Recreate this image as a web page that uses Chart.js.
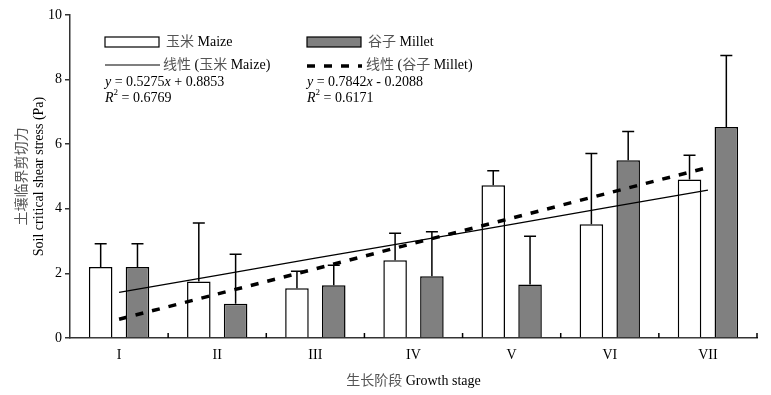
<!DOCTYPE html>
<html>
<head>
<meta charset="utf-8">
<script src="https://cdn.jsdelivr.net/npm/chart.js@4.4.1/dist/chart.umd.min.js"></script>
<style>
  body { margin: 0; background: #fff; }
  #wrap { width: 771px; height: 395px; }
</style>
</head>
<body>
<div id="wrap"><canvas id="myChart" width="771" height="395"></canvas></div>
<script>
// growth stages and measured values (Pa)
const stages = ['I', 'II', 'III', 'IV', 'V', 'VI', 'VII'];
const maize = [2.2, 1.75, 1.54, 2.41, 4.73, 3.52, 4.91];
const maizeSd = [0.72, 1.81, 0.53, 0.83, 0.45, 2.19, 0.75];
const millet = [2.2, 1.06, 1.63, 1.91, 1.66, 5.50, 6.53];
const milletSd = [0.72, 1.53, 0.62, 1.38, 1.49, 0.89, 2.22];
// linear trend values at each stage (from the fitted equations in the legend)
const maizeTrend = [1.41, 1.94, 2.47, 2.99, 3.52, 4.05, 4.58];
const milletTrend = [0.58, 1.36, 2.14, 2.93, 3.71, 4.50, 5.28];
const yTicks = [0, 2, 4, 6, 8, 10];

const FONT = '"Liberation Serif", "Noto Sans CJK SC", serif';
const cjk = /[\u3000-\u9fff\uff00-\uffef]/;

// draw text with CJK runs a bit lighter, like the original
function drawMixed(ctx, text, x, y, align) {
    const runs = [];
    for (const ch of text) {
        const isC = cjk.test(ch);
        if (runs.length && runs[runs.length - 1].c === isC) runs[runs.length - 1].t += ch;
        else runs.push({ t: ch, c: isC });
    }
    let total = 0;
    runs.forEach(r => { total += ctx.measureText(r.t).width; });
    let cx = align === 'center' ? x - total / 2 : x;
    ctx.textAlign = 'left';
    runs.forEach(r => {
        ctx.fillStyle = r.c ? '#555' : '#000';
        ctx.fillText(r.t, cx, y);
        cx += ctx.measureText(r.t).width;
    });
}

function drawEquation(ctx, x, y, parts) {
    let cx = x;
    parts.forEach(p => {
        ctx.font = (p.i ? 'italic ' : '') + (p.sup ? '9px ' : '14px ') + FONT;
        ctx.fillText(p.t, cx, p.sup ? y - 5 : y);
        cx += ctx.measureText(p.t).width;
    });
}

const overlay = {
    id: 'overlay',
    afterDatasetsDraw(chart) {
        const ctx = chart.ctx;
        const ys = chart.scales.y;
        const xs = chart.scales.x;
        ctx.save();
        ctx.strokeStyle = '#000';
        ctx.lineWidth = 1.5;
        // error bars on the two bar datasets (indices 2 and 3)
        [[2, maize, maizeSd], [3, millet, milletSd]].forEach(([idx, vals, sds]) => {
            chart.getDatasetMeta(idx).data.forEach((bar, j) => {
                const top = ys.getPixelForValue(vals[j] + sds[j]);
                ctx.beginPath();
                ctx.moveTo(bar.x, bar.y);
                ctx.lineTo(bar.x, top);
                ctx.moveTo(bar.x - 6, top);
                ctx.lineTo(bar.x + 6, top);
                ctx.stroke();
            });
        });
        // inward ticks at category boundaries
        const w = (xs.right - xs.left) / stages.length;
        for (let i = 1; i <= stages.length; i++) {
            const x = xs.left + i * w;
            ctx.beginPath();
            ctx.moveTo(x, xs.top);
            ctx.lineTo(x, xs.top - 5);
            ctx.stroke();
        }
        ctx.restore();
    },
    afterDraw(chart) {
        const ctx = chart.ctx;
        const ca = chart.chartArea;
        const l = ca.left, t = ca.top;
        ctx.save();
        ctx.textBaseline = 'middle';
        ctx.font = '14px ' + FONT;
        // legend row 1
        ctx.lineWidth = 1.2;
        ctx.strokeStyle = '#000';
        ctx.fillStyle = '#fff';
        ctx.fillRect(l + 35, t + 22, 54, 10);
        ctx.strokeRect(l + 35, t + 22, 54, 10);
        ctx.fillStyle = '#808080';
        ctx.fillRect(l + 237, t + 22, 54, 10);
        ctx.strokeRect(l + 237, t + 22, 54, 10);
        drawMixed(ctx, '玉米 Maize', l + 96, t + 27);
        drawMixed(ctx, '谷子 Millet', l + 298, t + 27);
        // legend row 2
        ctx.beginPath();
        ctx.moveTo(l + 35, t + 50);
        ctx.lineTo(l + 90, t + 50);
        ctx.stroke();
        ctx.lineWidth = 3.5;
        ctx.setLineDash([8, 9]);
        ctx.beginPath();
        ctx.moveTo(l + 237, t + 51);
        ctx.lineTo(l + 292, t + 51);
        ctx.stroke();
        ctx.setLineDash([]);
        drawMixed(ctx, '线性 (玉米 Maize)', l + 93, t + 50);
        drawMixed(ctx, '线性 (谷子 Millet)', l + 296, t + 50);
        // equations
        ctx.fillStyle = '#000';
        drawEquation(ctx, l + 35, t + 67, [{ t: 'y', i: 1 }, { t: ' = 0.5275' }, { t: 'x', i: 1 }, { t: ' + 0.8853' }]);
        drawEquation(ctx, l + 35, t + 83, [{ t: 'R', i: 1 }, { t: '2', sup: 1 }, { t: ' = 0.6769' }]);
        drawEquation(ctx, l + 237, t + 67, [{ t: 'y', i: 1 }, { t: ' = 0.7842' }, { t: 'x', i: 1 }, { t: ' - 0.2088' }]);
        drawEquation(ctx, l + 237, t + 83, [{ t: 'R', i: 1 }, { t: '2', sup: 1 }, { t: ' = 0.6171' }]);
        // axis titles
        ctx.font = '14px ' + FONT;
        drawMixed(ctx, '生长阶段 Growth stage', (ca.left + ca.right) / 2, 381, 'center');
        const cy = (ca.top + ca.bottom) / 2;
        ctx.translate(22, cy);
        ctx.rotate(-Math.PI / 2);
        drawMixed(ctx, '土壤临界剪切力', 0, 0, 'center');
        drawMixed(ctx, 'Soil critical shear stress (Pa)', 0, 17, 'center');
        ctx.restore();
    }
};

const ctx = document.getElementById('myChart').getContext('2d');

const chart = new Chart(ctx, {
    data: {
        labels: stages,
        datasets: [
            {
                type: 'line', label: '线性 (玉米 Maize)', data: maizeTrend,
                borderColor: '#000', borderWidth: 1.3, pointRadius: 0, order: 0
            },
            {
                type: 'line', label: '线性 (谷子 Millet)', data: milletTrend,
                borderColor: '#000', borderWidth: 3.5, borderDash: [8, 9], pointRadius: 0, order: 0
            },
            {
                type: 'bar', label: '玉米 Maize', data: maize,
                backgroundColor: '#fff', borderColor: '#000', borderWidth: 1.5,
                categoryPercentage: 0.75, barPercentage: 0.64, order: 1
            },
            {
                type: 'bar', label: '谷子 Millet', data: millet,
                backgroundColor: '#808080', borderColor: '#000', borderWidth: 1.5,
                categoryPercentage: 0.75, barPercentage: 0.64, order: 1
            }
        ]
    },
    options: {
        responsive: false,
        animation: false,
        layout: { padding: { top: 15, right: 14, left: 0, bottom: 0 } },
        plugins: { legend: { display: false }, tooltip: { enabled: false } },
        scales: {
            x: {
                afterFit: s => { s.height = 57; },
                grid: { display: false },
                border: { display: true, color: '#333', width: 1.5 },
                ticks: { color: '#000', font: { family: FONT, size: 14 }, padding: 1 }
            },
            y: {
                min: 0, max: 10,
                afterFit: s => { s.width = 70; },
                afterBuildTicks: s => { s.ticks = yTicks.map(v => ({ value: v })); },
                grid: { drawOnChartArea: false, drawTicks: true, tickLength: 5, color: '#333', lineWidth: 1.5 },
                border: { display: true, color: '#333', width: 1.5 },
                ticks: { color: '#000', font: { family: FONT, size: 14 }, padding: 3 }
            }
        }
    },
    plugins: [overlay]
});
</script>
</body>
</html>
